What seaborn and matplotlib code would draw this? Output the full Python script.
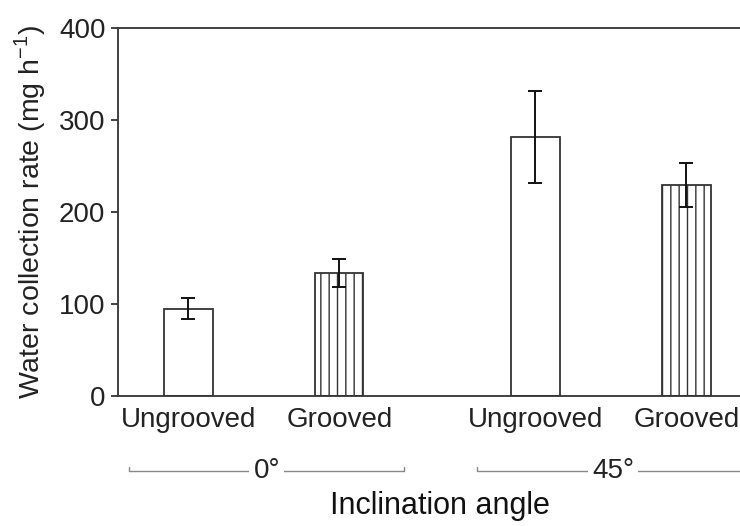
import numpy as np
import pandas as pd
import matplotlib
matplotlib.use("Agg")
import matplotlib.pyplot as plt
import seaborn as sns

# values
surfaces = ["Ungrooved", "Grooved", "Ungrooved", "Grooved"]
angles = ["0°", "0°", "45°", "45°"]
rates = [95, 134, 281, 229]
errors = [11, 15, 50, 24]
angle_groups = ["0°", "45°"]

# layout only
x_pos = [1.0, 2.0, 3.3, 4.3]
group_span = [(0.607, 2.43), (2.91, 4.72)]

sns.set_style("white")
plt.rcParams["font.family"] = ["Liberation Sans", "DejaVu Sans"]
plt.rcParams["mathtext.fontset"] = "custom"
plt.rcParams["mathtext.rm"] = "Liberation Sans"
plt.rcParams["hatch.color"] = "#9a9a9a"
plt.rcParams["hatch.linewidth"] = 1.0

df = pd.DataFrame({"x": x_pos, "surface": surfaces, "angle": angles, "rate": rates})

fig = plt.figure(figsize=(7.4, 5.26), dpi=100)
ax = fig.add_axes([118 / 740, 1 - 396 / 526, 1 - 118 / 740 + 0.005, (396 - 28) / 526])

sns.barplot(data=df, x="x", y="rate", native_scale=True, width=0.32,
            color="white", edgecolor="#333333", linewidth=1.3, errorbar=None, ax=ax)
for patch, s in zip(ax.patches, surfaces):
    patch.set_facecolor("white")
    if s == "Grooved":
        patch.set_hatch("||")

ax.errorbar(x_pos, rates, yerr=errors, fmt="none", ecolor="#111111",
            elinewidth=1.4, capsize=5, capthick=1.4, zorder=5)

ax.set_xlim(0.533, 4.68)
ax.set_ylim(0, 400)
ax.set_yticks([0, 100, 200, 300, 400])
ax.set_xticks(x_pos)
ax.set_xticklabels(surfaces)
ax.tick_params(axis="x", length=0, pad=8, labelsize=20, colors="#222222")
ax.tick_params(axis="y", direction="out", length=5, width=1.2, pad=4,
               labelsize=20, colors="#222222", left=True)
ax.set_xlabel("")
ax.set_ylabel("Water collection rate (mg h$^{-1}$)", fontsize=20.5, labelpad=8, color="#222222")

for side in ["left", "top", "bottom"]:
    ax.spines[side].set_visible(True)
    ax.spines[side].set_color("#333333")
    ax.spines[side].set_linewidth(1.3)
ax.spines["right"].set_visible(False)

# group brackets below the axis
trans = ax.get_xaxis_transform()
y_br = -0.205
for (x0, x1), lab in zip(group_span, angle_groups):
    ax.plot([x0, x0, x1, x1], [y_br + 0.012, y_br, y_br, y_br + 0.012], color="#888888",
            lw=1.0, transform=trans, clip_on=False)
    ax.text((x0 + x1) / 2, y_br, lab, transform=trans, ha="center", va="center",
            fontsize=20, color="#222222",
            bbox=dict(facecolor="white", edgecolor="none", pad=3))

fig.text(440 / 740, 1 - 506 / 526, "Inclination angle", ha="center",
         va="center", fontsize=22, color="#111111")

fig.savefig("out.png", dpi=100)
